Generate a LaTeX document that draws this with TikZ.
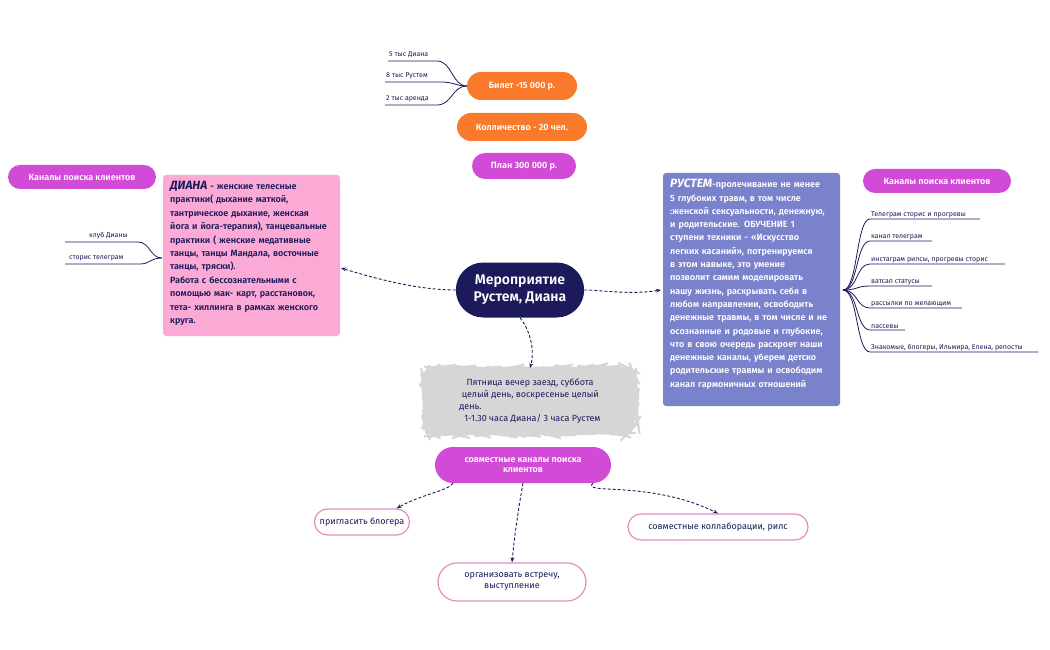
\documentclass[tikz,border=0pt]{standalone}
\usepackage{fontspec}
\setmainfont{Fira Sans}[BoldFont={Fira Sans SemiBold},BoldItalicFont={Fira Sans Bold Italic}]
\usetikzlibrary{arrows.meta,decorations.pathmorphing,shapes.misc}
\definecolor{navy}{HTML}{1C1A5A}
\definecolor{orng}{HTML}{F97A2A}
\definecolor{mag}{HTML}{D24BD6}
\definecolor{pinkb}{HTML}{FBA9D5}
\definecolor{blueb}{HTML}{7B82CC}
\definecolor{pbord}{HTML}{E58BC0}
\begin{document}
\begin{tikzpicture}[x=1pt,y=-1pt,
  pill/.style={rounded rectangle,inner sep=0pt,text=white,font=\fontsize{9}{10.5}\selectfont\bfseries,align=center},
  wpill/.style={rounded rectangle,draw=pbord,line width=1.2pt,fill=white,text=navy,inner sep=0pt,font=\fontsize{9}{11}\selectfont,align=center},
  lbl/.style={font=\fontsize{7}{8}\selectfont,text=navy,anchor=south west,inner sep=1pt},
  br/.style={draw=navy,line width=0.8pt},
  dsh/.style={draw=navy,line width=0.9pt,dash pattern=on 3pt off 2pt,-{Stealth[length=5pt]}},
  box/.style={rounded corners=3pt},
  btxt/.style={anchor=north west,align=left,inner sep=0pt,text width=168}]
\useasboundingbox (0,0) rectangle (1050,650);
% central
\node[rounded rectangle,fill=navy,text=white,minimum width=135,minimum height=55,align=center,font=\fontsize{14}{17}\selectfont\bfseries] (c) at (520,290) {Мероприятие\\Рустем, Диана};
% top
\node[pill,fill=orng,minimum width=110,minimum height=28] (bil) at (522,86) {Билет -15 000 р.};
\node[pill,fill=orng,minimum width=130,minimum height=28] (kol) at (522,127) {Колличество - 20 чел.};
\node[pill,fill=mag,minimum width=104,minimum height=26] (plan) at (524,166) {План 300 000 р.};
\coordinate (bj) at (467,86);
\node[lbl] (t1) at (388,59) {5 тыс Диана};
\node[lbl] (t2) at (385,80) {8 тыс Рустем};
\node[lbl] (t3) at (385,103) {2 тыс аренда};
\draw[br] (bj) .. controls (452,86) and (452,61) .. (437,61) -- (388,61);
\draw[br] (bj) .. controls (455,86) and (455,82) .. (440,82) -- (385,82);
\draw[br] (bj) .. controls (452,86) and (452,105) .. (437,105) -- (385,105);
% left
\node[pill,fill=mag,minimum width=148,minimum height=24] (kl) at (82,177) {Каналы поиска клиентов};
\fill[box,pinkb] (163,175) rectangle (340,336);
\node[btxt,text=navy,font=\fontsize{9}{13.4}\selectfont\bfseries] (d) at (170,181) {{\fontsize{12}{10}\selectfont\itshape ДИАНА} - женские телесные практики( дыхание маткой, тантрическое дыхание, женская йога и йога-терапия), танцевальные практики ( женские медативные танцы, танцы Мандала, восточные танцы, тряски).\\Работа с бессознательными с помощью мак- карт, расстановок, тета- хиллинга в рамках женского круга.};
\coordinate (dj) at (162,258);
\node[lbl] (l1) at (88,240) {клуб Дианы};
\node[lbl] (l2) at (68,262) {сторис телеграм};
\draw[br] (dj) .. controls (150,258) and (150,242) .. (138,242) -- (65,242);
\draw[br] (dj) .. controls (150,258) and (150,264) .. (140,264) -- (65,264);
% right
\fill[box,blueb] (663,173) rectangle (840,406);
\node[btxt,text=white,font=\fontsize{9}{13.3}\selectfont\bfseries] (r) at (670,179) {{\fontsize{12}{10}\selectfont\itshape РУСТЕМ}-пролечивание не менее 5 глубоких травм, в том числе :женской сексуальности, денежную, и родительские. ОБУЧЕНИЕ 1 ступени техники - «Искусство легких касаний», потренируемся в этом навыке, это умение\ \ позволит самим моделировать нашу жизнь, раскрывать себя в любом направлении, освободить денежные травмы, в том числе и не осознанные и родовые и глубокие, что в свою очередь раскроет наши денежные каналы, уберем детско родительские травмы и освободим канал гармоничных отношений};
\node[pill,fill=mag,minimum width=148,minimum height=24] (kr) at (937,181) {Каналы поиска клиентов};
\coordinate (rj) at (843,290);
\foreach \y/\e/\t [count=\i] in {219/980/Телеграм сторис и прогревы,241/932/канал телеграм,264/1005/{инстаграм рилсы, прогревы сторис},286/932/ватсап статусы,308/962/рассылки по желающим,330/905/пассевы,352/1038/{Знакомые, блогеры, Ильмира, Елена, репосты}}{
  \node[lbl] (ri\i) at (870,\y) {\t};
  \draw[br] (rj) .. controls (858,290) and (856,\y) .. (870,\y) -- (\e,\y);
}
% grey
\node[fill=gray!32,draw=gray!32,line width=2pt,decorate,decoration={random steps,segment length=7pt,amplitude=1.5pt},rounded corners=16pt,minimum width=212,minimum height=66] (g) at (530,401) {};
\node[text=navy,font=\fontsize{9}{12}\selectfont,align=left] (gt) at (530,401) {\ \ \ Пятница вечер заезд, суббота\\\ целый день, воскресенье целый\\день.\\\ \ 1-1.30 часа Диана/ 3 часа Рустем};
% bottom
\node[pill,fill=mag,minimum width=176,minimum height=36] (s) at (523,465) {совместные каналы поиска\\клиентов};
\node[wpill,minimum width=95,minimum height=26] (b1) at (362,522) {пригласить блогера};
\node[wpill,minimum width=148,minimum height=38] (b2) at (512,582) {организовать встречу,\\выступление};
\node[wpill,minimum width=180,minimum height=26] (b3) at (718,527) {совместные коллаборации, рилс};
% connectors
\draw[dsh] (c.west) .. controls (420,290) and (380,280) .. (341,268);
\draw[dsh] (c.east) .. controls (600,290) and (630,295) .. (661,290);
\draw[dsh] (c.south) .. controls (530,330) and (535,350) .. (530,368);
\draw[dsh] (s.south west) .. controls (450,490) and (420,495) .. (b1.north east);
\draw[dsh] (s.south) .. controls (520,500) and (515,530) .. (b2.north);
\draw[dsh] (s.south east) .. controls (580,495) and (650,480) .. (b3.north);
\end{tikzpicture}
\end{document}
